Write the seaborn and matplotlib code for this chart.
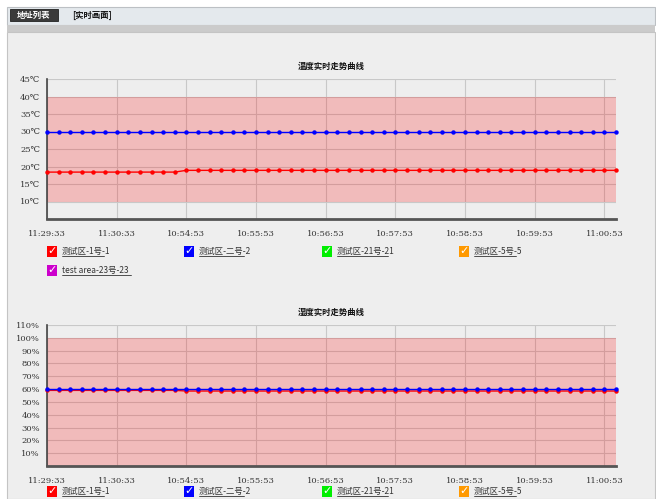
import matplotlib
matplotlib.use("Agg")
import matplotlib.pyplot as plt
from matplotlib.patches import Rectangle
import pandas as pd
import seaborn as sns

W, H = 656, 499

x_labels = ["11:29:33", "11:30:33", "10:54:53", "10:55:53", "10:56:53",
            "10:57:53", "10:58:53", "10:59:53", "11:00:53"]

temp_red = [18.4, 18.4, 18.4, 18.4, 18.4, 18.4, 18.4, 18.4, 18.4, 18.4,
            18.4, 18.4, 18.9, 18.9, 18.9, 18.9, 18.9, 18.9, 18.9, 18.9,
            18.9, 18.9, 18.9, 18.9, 18.9, 18.9, 18.9, 18.9, 18.9, 18.9,
            18.9, 18.9, 18.9, 18.9, 18.9, 18.9, 18.9, 18.9, 18.9, 18.9,
            18.9, 18.9, 18.9, 18.9, 18.9, 18.9, 18.9, 18.9, 18.9, 18.9]
temp_blue = [30.0, 30.0, 30.0, 30.0, 30.0, 30.0, 30.0, 30.0, 30.0, 30.0,
             30.0, 30.0, 30.0, 30.0, 30.0, 30.0, 30.0, 30.0, 30.0, 30.0,
             30.0, 30.0, 30.0, 30.0, 30.0, 30.0, 30.0, 30.0, 30.0, 30.0,
             30.0, 30.0, 30.0, 30.0, 30.0, 30.0, 30.0, 30.0, 30.0, 30.0,
             30.0, 30.0, 30.0, 30.0, 30.0, 30.0, 30.0, 30.0, 30.0, 30.0]
hum_red = [59.0, 59.0, 59.0, 59.0, 59.0, 59.0, 59.0, 59.0, 59.0, 59.0,
           59.0, 59.0, 58.5, 58.5, 58.5, 58.5, 58.5, 58.5, 58.5, 58.5,
           58.5, 58.5, 58.5, 58.5, 58.5, 58.5, 58.5, 58.5, 58.5, 58.5,
           58.5, 58.5, 58.5, 58.5, 58.5, 58.5, 58.5, 58.5, 58.5, 58.5,
           58.5, 58.5, 58.5, 58.5, 58.5, 58.5, 58.5, 58.5, 58.5, 58.5]
hum_blue = [60.0, 60.0, 60.0, 60.0, 60.0, 60.0, 60.0, 60.0, 60.0, 60.0,
            60.0, 60.0, 60.0, 60.0, 60.0, 60.0, 60.0, 60.0, 60.0, 60.0,
            60.0, 60.0, 60.0, 60.0, 60.0, 60.0, 60.0, 60.0, 60.0, 60.0,
            60.0, 60.0, 60.0, 60.0, 60.0, 60.0, 60.0, 60.0, 60.0, 60.0,
            60.0, 60.0, 60.0, 60.0, 60.0, 60.0, 60.0, 60.0, 60.0, 60.0]

legend_names = ["测试区-1号-1", "测试区-二号-2", "测试区-21号-21", "测试区-5号-5", "test area-23号-23"]
legend_colors = ["#ff0000", "#0000ff", "#00ee00", "#ff9900", "#cc00cc"]

temp_ticks = [10, 15, 20, 25, 30, 35, 40, 45]
hum_ticks = [0, 10, 20, 30, 40, 50, 60, 70, 80, 90, 100, 110]

sns.set_style("white")
cjk = ["Noto Sans CJK SC", "DejaVu Sans"]
serif = ["DejaVu Serif", "DejaVu Sans"]
plt.rcParams["font.family"] = cjk

fig = plt.figure(figsize=(W / 100, H / 100), dpi=100)
fig.patch.set_facecolor("white")


def rect(x0, y0, x1, y1, z=-5, **kw):
    fig.patches.append(Rectangle((x0 / W, 1 - y1 / H), (x1 - x0) / W, (y1 - y0) / H,
                                 transform=fig.transFigure, zorder=z, **kw))


def ftext(x, y, s, **kw):
    fig.text(x / W, 1 - y / H, s, **kw)


# page chrome
rect(7, 7, 655, 25, facecolor="#e4e9ed", edgecolor="#bcc0c4", lw=0.8)
rect(7, 25, 655, 32, facecolor="#cbcbcb", edgecolor="none")
rect(7, 32, 655, 499, facecolor="#eeeeee", edgecolor="#c4c4c4", lw=0.8)
rect(10, 9, 58, 21, z=2, facecolor="#3a3a3a", edgecolor="#222222", lw=0.6)
ftext(34, 15.5, "地址列表", color="white", fontsize=6, fontweight="bold", ha="center", va="center")
ftext(72, 15.5, "[实时画面]", color="#111111", fontsize=6, fontweight="bold", ha="left", va="center")


def make_chart(top, bottom, ylim, ticks, fmt, band, red, blue, title, title_y, legend_y):
    ax = fig.add_axes([47 / W, 1 - bottom / H, (616 - 47) / W, (bottom - top) / H])
    ax.set_facecolor("#eeeeee")
    n = len(red)
    df = pd.DataFrame({
        "idx": list(range(n)) * 2,
        "value": red + blue,
        "series": [legend_names[0]] * n + [legend_names[1]] * n,
    })
    ax.axhspan(band[0], band[1], color="#ff0000", alpha=0.21, lw=0, zorder=1)
    sns.lineplot(data=df, x="idx", y="value", hue="series",
                 palette=[legend_colors[0], legend_colors[1]], marker="o",
                 markersize=3.2, markeredgewidth=0, linewidth=1.0,
                 legend=False, ax=ax, zorder=3, clip_on=False)
    ax.set_xlim(0, n - 1)
    ax.set_ylim(*ylim)
    ax.set_xticks(range(0, n, 6))
    ax.set_xticklabels(x_labels, fontsize=6, family=serif, color="#333333")
    ax.set_yticks(ticks)
    ax.set_yticklabels([fmt(t) if t > 0 else "" for t in ticks],
                       fontsize=6, family=serif, color="#333333")
    ax.set_xlabel("")
    ax.set_ylabel("")
    ax.grid(True, color="#c8c8c8", lw=0.8, zorder=0)
    ax.set_axisbelow(True)
    for s in ["top", "right"]:
        ax.spines[s].set_visible(False)
    ax.spines["left"].set_color("#444444")
    ax.spines["left"].set_linewidth(1.2)
    ax.spines["bottom"].set_color("#555555")
    ax.spines["bottom"].set_linewidth(2.0)
    ax.tick_params(axis="x", direction="out", length=5, width=1, color="#444444", pad=3)
    ax.tick_params(axis="y", direction="out", length=4, width=1, color="#444444", pad=1)
    ftext(331, title_y, title, fontsize=6, fontweight="bold", color="#111111", ha="center", va="center")
    # legend checkboxes (rows below the picture edge are not drawn)
    xs = [47, 184, 322, 459, 47]
    ys = [legend_y, legend_y, legend_y, legend_y, legend_y + 19]
    for name, col, lx, ly in zip(legend_names, legend_colors, xs, ys):
        if ly > H:
            continue
        rect(lx, ly - 5.5, lx + 10, ly + 5.5, z=2, facecolor=col, edgecolor="none")
        ftext(lx + 5, ly, "✓", color="white", fontsize=8,
              ha="center", va="center", family=["DejaVu Sans"], zorder=3)
        ftext(lx + 15, ly, name, fontsize=6, color="#333333", ha="left", va="center")
        tw = 4.2 * len(name) + (2.2 * sum(1 for c in name if ord(c) > 255))
        fig.add_artist(plt.Line2D([(lx + 15) / W, (lx + 15 + tw) / W],
                                  [1 - (ly + 5) / H, 1 - (ly + 5) / H],
                                  color="#333333", lw=0.6))
    return ax


make_chart(79, 219, (5, 45), temp_ticks, lambda t: f"{t}℃", (10, 40),
           temp_red, temp_blue, "温度实时走势曲线", 66, 251)
make_chart(325, 466, (0, 110), hum_ticks, lambda t: f"{t}%", (0, 100),
           hum_red, hum_blue, "湿度实时走势曲线", 312, 491)

fig.savefig("out.png", dpi=100, facecolor=fig.get_facecolor())
